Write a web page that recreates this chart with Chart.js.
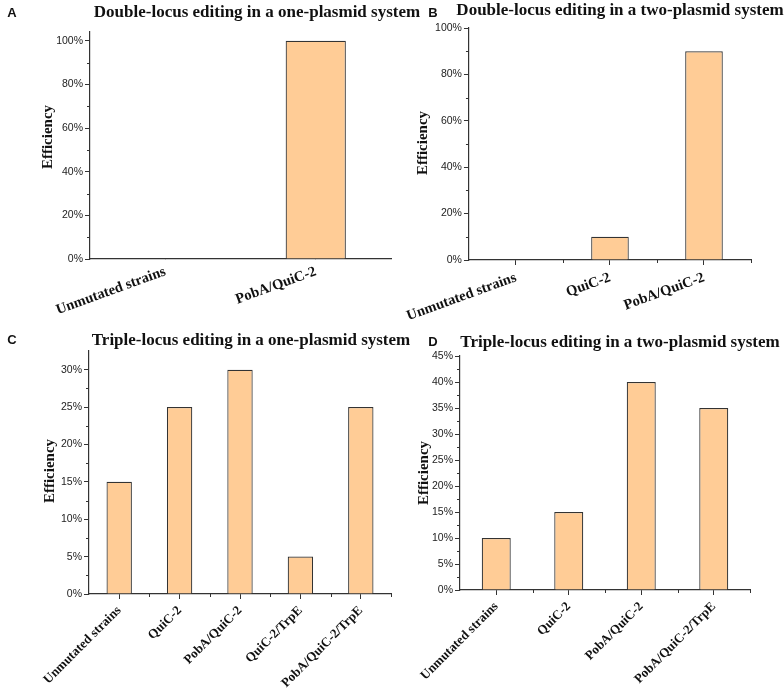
<!DOCTYPE html>
<html>
<head>
<meta charset="utf-8">
<script src="https://cdn.jsdelivr.net/npm/chart.js@4.4.0/dist/chart.umd.min.js"></script>
<style>
body{margin:0;background:#fff;}
#wrap{position:relative;width:784px;height:694px;overflow:hidden;}
canvas{position:absolute;}
.txt{position:absolute;white-space:nowrap;transform:translate(-50%,-50%);color:#111;}
.title{font-family:"Liberation Serif",serif;font-weight:bold;font-size:17px;}
.letter{font-family:"Liberation Sans",Arial,sans-serif;font-weight:bold;font-size:13px;}
.ytitle{font-family:"Liberation Serif",serif;font-weight:bold;font-size:15px;transform:translate(-50%,-50%) rotate(-90deg);}
</style>
</head>
<body>
<div id="wrap">
<canvas id="cA" width="392" height="330" style="left:0;top:0"></canvas>
<canvas id="cB" width="392" height="330" style="left:392px;top:0"></canvas>
<canvas id="cC" width="392" height="364" style="left:0;top:330px"></canvas>
<canvas id="cD" width="392" height="364" style="left:392px;top:330px"></canvas>

<div class="txt letter" style="left:12px;top:12px">A</div>
<div class="txt title" style="left:257px;top:12px">Double-locus editing in a one-plasmid system</div>
<div class="txt letter" style="left:433px;top:12px">B</div>
<div class="txt title" style="left:620px;top:10px">Double-locus editing in a two-plasmid system</div>
<div class="txt letter" style="left:12px;top:339px">C</div>
<div class="txt title" style="left:251px;top:340px">Triple-locus editing in a one-plasmid system</div>
<div class="txt letter" style="left:433px;top:341px">D</div>
<div class="txt title" style="left:620px;top:342px">Triple-locus editing in a two-plasmid system</div>

<div class="txt ytitle" style="left:47px;top:137px">Efficiency</div>
<div class="txt ytitle" style="left:422px;top:143px">Efficiency</div>
<div class="txt ytitle" style="left:49px;top:471px">Efficiency</div>
<div class="txt ytitle" style="left:423px;top:473px">Efficiency</div>
</div>

<script>
// categories and values (percent)
const catsA = ['Unmutated strains', 'PobA/QuiC-2'];
const valsA = [0, 100];

const catsB = ['Unmutated strains', 'QuiC-2', 'PobA/QuiC-2'];
const valsB = [0, 10, 90];

const catsC = ['Unmutated strains', 'QuiC-2', 'PobA/QuiC-2', 'QuiC-2/TrpE', 'PobA/QuiC-2/TrpE'];
const valsC = [15, 25, 30, 5, 25];

const catsD = ['Unmutated strains', 'QuiC-2', 'PobA/QuiC-2', 'PobA/QuiC-2/TrpE'];
const valsD = [10, 15, 40, 35];

// y axis: max and tick step per panel
const yMax  = [104, 100, 32.5, 45];
const yStep = [20, 20, 5, 5];

const barFill = 'rgb(255, 204, 150)';
const barEdge = '#333';
const axisCol = '#333';

// small ticks between the labelled ones
const minorTicks = {
    id: 'minorTicks',
    afterDraw(chart, args, o) {
        const ctx = chart.ctx, x = chart.scales.x, y = chart.scales.y, a = chart.chartArea;
        ctx.save();
        ctx.strokeStyle = axisCol;
        ctx.lineWidth = 1;
        ctx.beginPath();
        for (let v = o.step / 2; v < y.max; v += o.step) {
            const p = Math.round(y.getPixelForValue(v)) + 0.5;
            ctx.moveTo(a.left - 3, p);
            ctx.lineTo(a.left, p);
        }
        if (o.xMinor) {
            const n = chart.data.labels.length;
            const half = (x.getPixelForValue(1) - x.getPixelForValue(0)) / 2;
            for (let i = 0; i < n; i++) {
                const p = Math.round(x.getPixelForValue(i) + half) + 0.5;
                ctx.moveTo(p, a.bottom);
                ctx.lineTo(p, a.bottom + 3);
            }
        }
        ctx.stroke();
        ctx.restore();
    }
};

let makePanel = (id, cats, vals, k, p) => {
    return new Chart(document.getElementById(id), {
        type: 'bar',
        data: {
            labels: cats,
            datasets: [{
                data: vals,
                backgroundColor: barFill,
                borderColor: barEdge,
                borderWidth: 1.2,
                barPercentage: p.bar,
                categoryPercentage: 1
            }]
        },
        options: {
            responsive: false,
            animation: false,
            devicePixelRatio: 1,
            layout: { padding: { top: p.top, right: p.right, left: 0, bottom: 0 } },
            plugins: {
                legend: { display: false },
                tooltip: { enabled: false },
                minorTicks: { step: yStep[k], xMinor: p.xTicks }
            },
            scales: {
                x: {
                    afterFit: s => { s.height = p.xh; },
                    grid: {
                        offset: false,
                        drawOnChartArea: false,
                        tickLength: p.xTicks ? 5 : 0,
                        color: axisCol
                    },
                    border: { color: axisCol, width: 1.2 },
                    ticks: {
                        autoSkip: false,
                        minRotation: p.rot,
                        maxRotation: p.rot,
                        padding: 4,
                        color: '#111',
                        font: { family: 'Liberation Serif', weight: 'bold', size: p.fs }
                    }
                },
                y: {
                    min: 0,
                    max: yMax[k],
                    afterFit: s => { s.width = p.left; },
                    grid: { drawOnChartArea: false, tickLength: 5, color: axisCol },
                    border: { color: axisCol, width: 1.2 },
                    ticks: {
                        stepSize: yStep[k],
                        includeBounds: false,
                        padding: 2,
                        color: '#222',
                        font: { family: 'Liberation Sans', size: 10.5 },
                        callback: v => v + '%'
                    }
                }
            }
        },
        plugins: [minorTicks]
    });
};

makePanel('cA', catsA, valsA, 0, { left: 90, right: 1, top: 32, xh: 71, rot: 20, fs: 14.5, bar: 0.4, xTicks: false });
makePanel('cB', catsB, valsB, 1, { left: 68, right: 33, top: 28, xh: 70, rot: 20, fs: 14.5, bar: 0.4, xTicks: true });
makePanel('cC', catsC, valsC, 2, { left: 89, right: 1, top: 21, xh: 100, rot: 45, fs: 13, bar: 0.42, xTicks: true });
makePanel('cD', catsD, valsD, 3, { left: 68, right: 34, top: 26, xh: 104, rot: 45, fs: 13, bar: 0.4, xTicks: true });
</script>
</body>
</html>
